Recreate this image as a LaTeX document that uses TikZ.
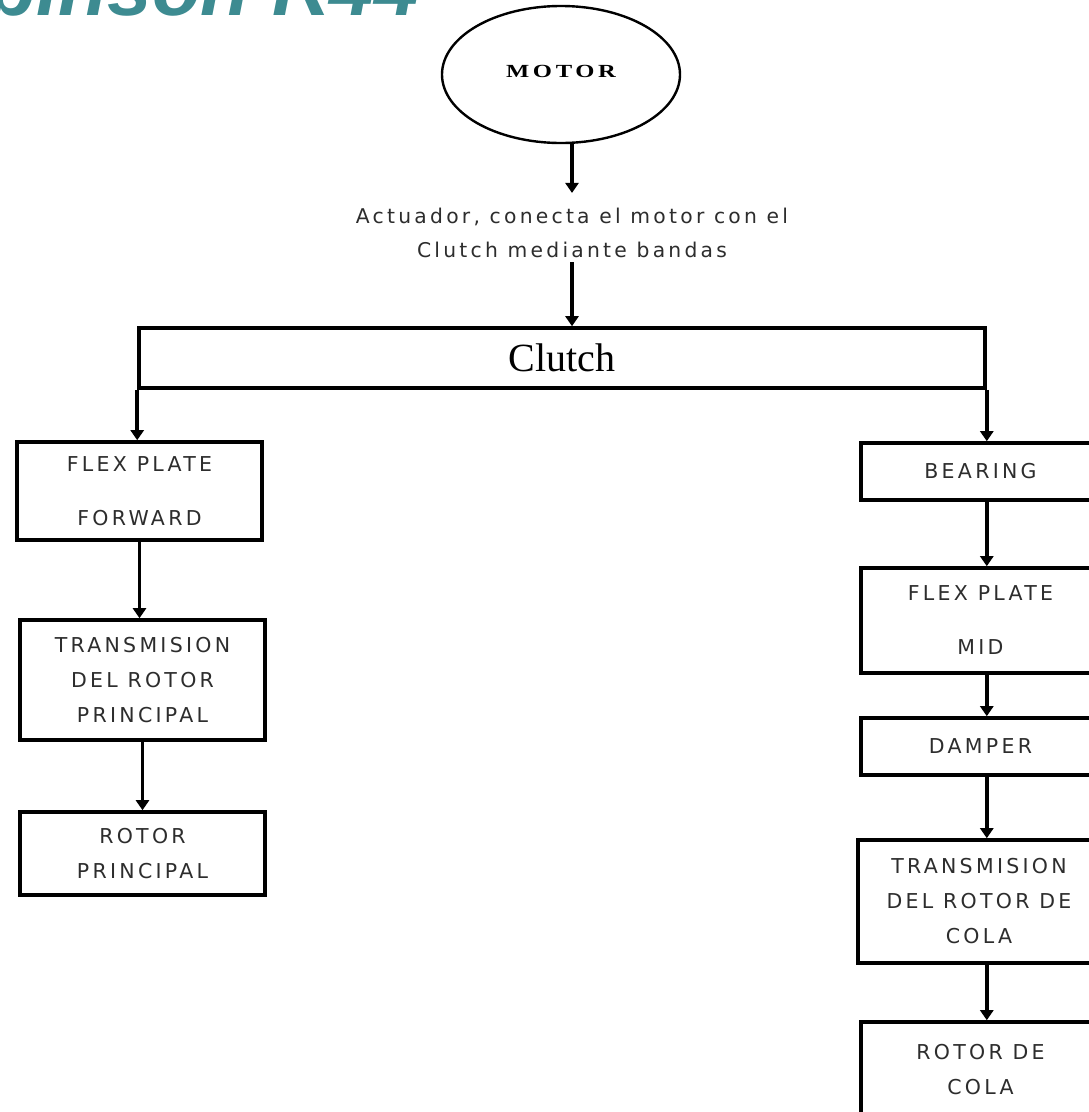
\documentclass[tikz,border=0pt]{standalone}
\usepackage{fontspec}
\setmainfont{Liberation Serif}
\newfontfamily\boxfont[LetterSpace=16]{DejaVu Sans}
\newfontfamily\actfont[LetterSpace=16]{DejaVu Sans}
\newfontfamily\motorfont[LetterSpace=15]{Liberation Serif}
\newfontfamily\titlefont{Liberation Sans}
\usetikzlibrary{shapes.geometric,arrows.meta}
\definecolor{teal44}{RGB}{61,139,145}
\definecolor{txtgray}{RGB}{45,45,45}
\tikzset{
  box/.style={draw, line width=3.6pt, rectangle, inner sep=0pt, align=center,
    font=\boxfont\fontsize{20.5}{35}\selectfont, text=txtgray},
  arr/.style={line width=3.6pt, -{Triangle[width=13pt,length=10pt]}},
}
\begin{document}
\begin{tikzpicture}[x=1pt,y=-1pt]
\useasboundingbox (0,0) rectangle (1089,1112);
\clip (0,0) rectangle (1089,1112);
\fill[white] (0,0) rectangle (1089,1112);
% title (cut off at the top-left edge, as in the reference)
\node (title) [anchor=base east, inner sep=0pt, text=teal44, font=\titlefont\bfseries\itshape\fontsize{80}{80}\selectfont] at (419,15) {Robinson R44};
% motor
\node (motor) [draw, ellipse, line width=2.4pt, minimum width=238pt, minimum height=137pt, inner sep=0pt,
  font=\motorfont\bfseries\fontsize{18.5}{18.5}\selectfont] at (561,74.5) {\raisebox{7pt}{\scalebox{1.33}[1]{MOTOR}}};
% actuator text
\node (act) [align=center, inner xsep=0pt, inner ysep=4pt, text=txtgray,
  font=\actfont\fontsize{20.3}{34}\selectfont] at (572,233) {Actuador, conecta el motor con el\\Clutch mediante bandas};
% clutch
\node (clutch) [draw, line width=3.6pt, minimum width=846pt, minimum height=60pt, inner sep=0pt,
  font=\fontsize{40}{40}\selectfont] at (562,358) {Clutch};
% left column
\node (flexf) [box, minimum width=245pt, minimum height=98pt] at (139.5,491) {FLEX PLATE\\[19pt]FORWARD};
\node (transl) [box, minimum width=245pt, minimum height=120pt] at (142.5,680) {TRANSMISION\\DEL ROTOR\\PRINCIPAL};
\node (rotorp) [box, minimum width=245pt, minimum height=83pt] at (142.5,853.5) {ROTOR\\PRINCIPAL};
% right column
\node (bearing) [box, minimum width=239pt, minimum height=57pt] at (980.5,471.5) {BEARING};
\node (flexm) [box, minimum width=239pt, minimum height=105pt] at (980.5,620.5) {FLEX PLATE\\[19pt]MID};
\node (damper) [box, minimum width=239pt, minimum height=57pt] at (980.5,746.5) {DAMPER};
\node (transc) [box, minimum width=242pt, minimum height=123pt] at (979,901.5) {TRANSMISION\\DEL ROTOR DE\\COLA};
\node (rotorc) [box, minimum width=239pt, minimum height=96pt] at (980.5,1070) {\raisebox{6pt}{\begin{tabular}{@{}c@{}}ROTOR DE\\COLA\end{tabular}}};
% connectors
\draw[arr, shorten >=11pt] (motor.south -| act.north) -- (act.north);
\draw[arr] (act.south) -- (act.south |- clutch.north);
\draw[arr] (clutch.south west) -- (clutch.south west |- flexf.north);
\draw[arr] (clutch.south east) -- (clutch.south east |- bearing.north);
\draw[arr] (flexf.south) -- (flexf.south |- transl.north);
\draw[arr] (transl.south) -- (transl.south |- rotorp.north);
\draw[arr] (clutch.south east |- bearing.south) -- (clutch.south east |- flexm.north);
\draw[arr] (clutch.south east |- flexm.south) -- (clutch.south east |- damper.north);
\draw[arr] (clutch.south east |- damper.south) -- (clutch.south east |- transc.north);
\draw[arr] (clutch.south east |- transc.south) -- (clutch.south east |- rotorc.north);
\end{tikzpicture}
\end{document}
